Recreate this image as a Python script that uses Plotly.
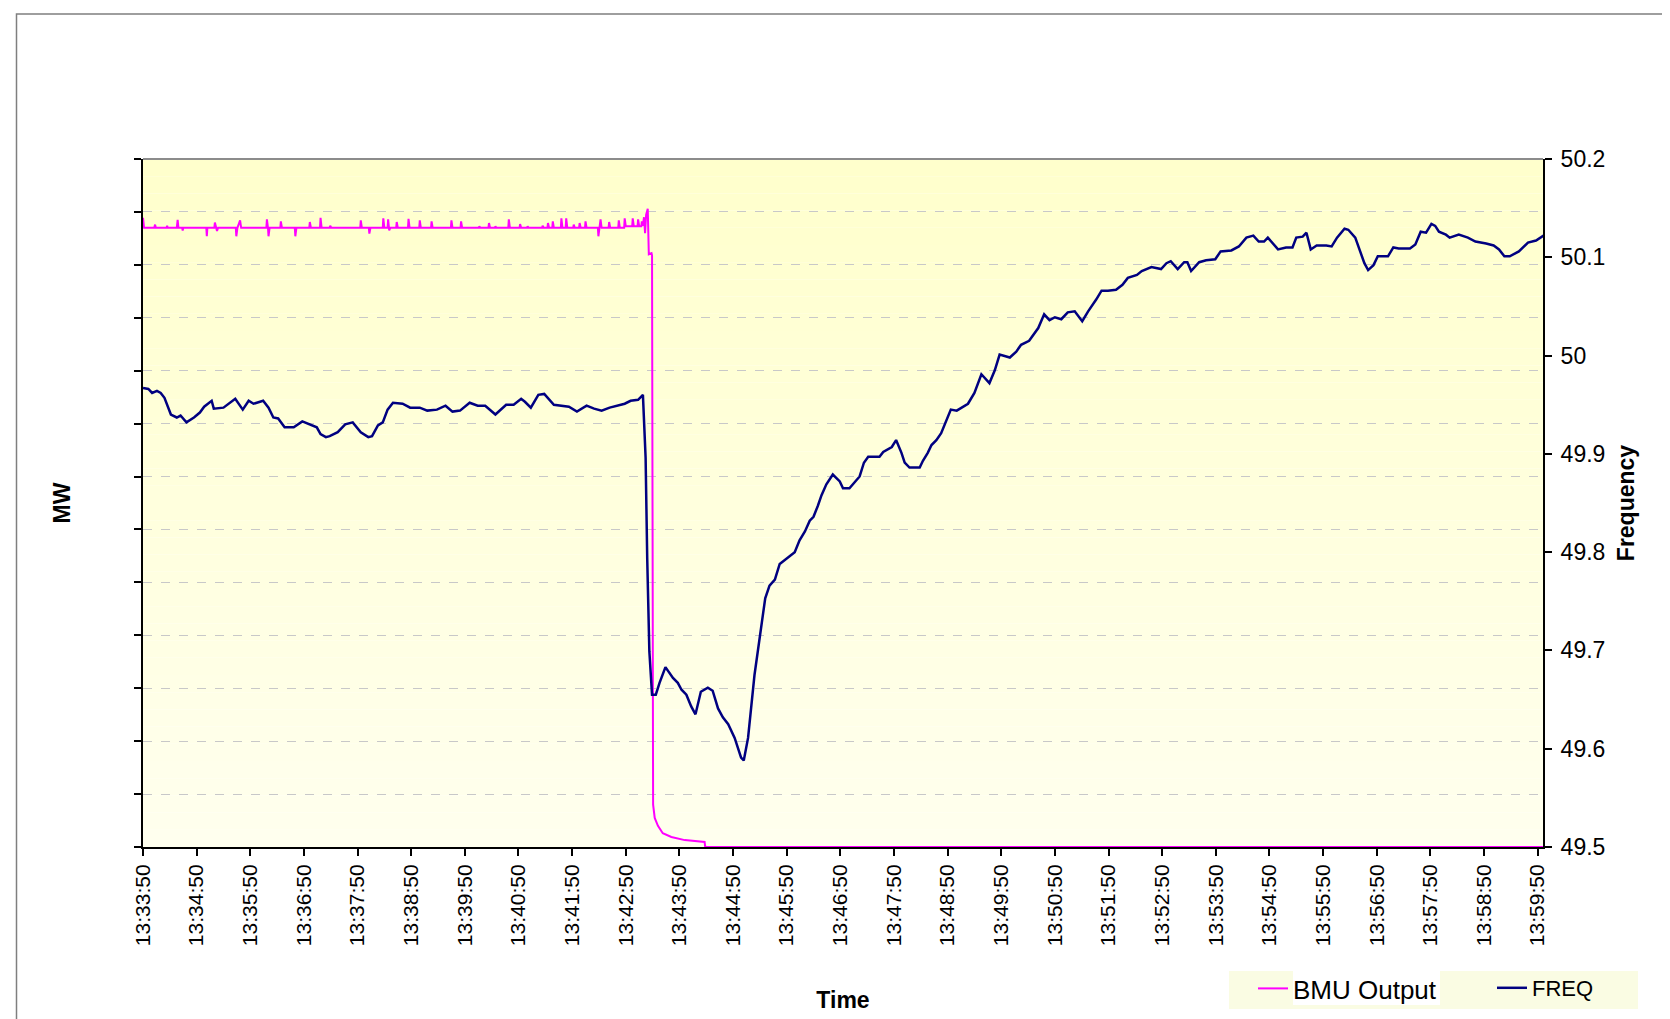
import pandas as pd
import plotly.graph_objects as go

# ---------------- data ----------------
START = "2008-05-27 13:33:50"

# minutes after 13:33:50 and frequency (Hz)
freq_min = [0.00, 0.10, 0.17, 0.26, 0.33, 0.40, 0.52, 0.63, 0.70, 0.81, 0.95, 1.06, 1.14, 1.24, 1.28,
            1.32, 1.50, 1.72, 1.86, 1.97, 2.06, 2.24, 2.34, 2.43, 2.52, 2.64, 2.81, 2.97, 3.13, 3.24,
            3.31, 3.41, 3.48, 3.63, 3.77, 3.91, 4.06, 4.20, 4.27, 4.38, 4.47, 4.56, 4.66, 4.84, 4.98,
            5.16, 5.30, 5.48, 5.64, 5.77, 5.91, 6.09, 6.24, 6.38, 6.57, 6.77, 6.91, 7.05, 7.12, 7.23,
            7.37, 7.48, 7.66, 7.80, 7.94, 8.09, 8.27, 8.41, 8.55, 8.70, 8.84, 8.98, 9.09, 9.23, 9.32,
            9.37, 9.40, 9.44, 9.49, 9.56, 9.63, 9.74, 9.88, 9.97, 10.04, 10.13, 10.22, 10.30, 10.40,
            10.53, 10.62, 10.72, 10.81, 10.91, 11.03, 11.15, 11.20, 11.28, 11.40, 11.52, 11.60, 11.68,
            11.78, 11.87, 11.96, 12.06, 12.15, 12.24, 12.34, 12.43, 12.50, 12.58, 12.65, 12.74, 12.86,
            12.99, 13.05, 13.17, 13.27, 13.36, 13.44, 13.52, 13.73, 13.80, 13.96, 14.04, 14.14, 14.20,
            14.29, 14.48, 14.54, 14.63, 14.70, 14.79, 14.88, 14.95, 15.04, 15.06, 15.17, 15.29, 15.38,
            15.50, 15.63, 15.78, 15.88, 15.97, 16.16, 16.28, 16.37, 16.52, 16.69, 16.80, 16.90, 17.00,
            17.12, 17.24, 17.37, 17.51, 17.62, 17.77, 17.87, 17.99, 18.14, 18.26, 18.36, 18.53, 18.62,
            18.80, 18.98, 19.08, 19.16, 19.29, 19.41, 19.47, 19.54, 19.69, 19.82, 19.99, 20.09, 20.29,
            20.43, 20.57, 20.70, 20.80, 20.90, 20.97, 21.06, 21.16, 21.31, 21.43, 21.50, 21.62, 21.69,
            21.77, 21.88, 22.06, 22.16, 22.26, 22.40, 22.47, 22.60, 22.70, 22.77, 22.84, 22.94, 23.02,
            23.21, 23.31, 23.41, 23.62, 23.72, 23.82, 23.92, 24.02, 24.09, 24.16, 24.29, 24.36, 24.53,
            24.70, 24.84, 25.04, 25.18, 25.28, 25.38, 25.48, 25.65, 25.82, 25.97, 26.11]
freq_hz = [49.967, 49.966, 49.962, 49.964, 49.962, 49.957, 49.940, 49.937, 49.939, 49.932, 49.937, 49.942,
           49.948, 49.953, 49.954, 49.946, 49.947, 49.956, 49.945, 49.954, 49.951, 49.954, 49.947, 49.937,
           49.936, 49.927, 49.927, 49.933, 49.929, 49.927, 49.920, 49.917, 49.918, 49.922, 49.930, 49.932,
           49.922, 49.917, 49.918, 49.929, 49.932, 49.945, 49.952, 49.951, 49.947, 49.947, 49.944, 49.945,
           49.949, 49.943, 49.944, 49.952, 49.949, 49.949, 49.940, 49.950, 49.950, 49.956, 49.953, 49.947,
           49.960, 49.961, 49.950, 49.949, 49.948, 49.943, 49.949, 49.946, 49.944, 49.947, 49.949, 49.951,
           49.954, 49.955, 49.960, 49.896, 49.794, 49.699, 49.655, 49.655, 49.667, 49.683, 49.672, 49.667,
           49.660, 49.655, 49.643, 49.635, 49.658, 49.662, 49.659, 49.641, 49.632, 49.625, 49.611, 49.591,
           49.588, 49.611, 49.675, 49.723, 49.753, 49.766, 49.772, 49.788, 49.792, 49.796, 49.800, 49.812,
           49.821, 49.832, 49.836, 49.847, 49.858, 49.869, 49.879, 49.872, 49.865, 49.865, 49.871, 49.877,
           49.891, 49.897, 49.897, 49.902, 49.907, 49.914, 49.901, 49.891, 49.886, 49.886, 49.893, 49.901,
           49.909, 49.914, 49.921, 49.930, 49.943, 49.945, 49.944, 49.948, 49.951, 49.962, 49.981, 49.972,
           49.985, 50.001, 49.998, 50.004, 50.011, 50.015, 50.028, 50.042, 50.036, 50.039, 50.037, 50.044,
           50.045, 50.035, 50.045, 50.057, 50.066, 50.066, 50.067, 50.072, 50.079, 50.082, 50.086, 50.090,
           50.088, 50.094, 50.096, 50.088, 50.095, 50.095, 50.086, 50.095, 50.097, 50.098, 50.106, 50.107,
           50.111, 50.120, 50.122, 50.116, 50.116, 50.120, 50.114, 50.108, 50.110, 50.110, 50.120, 50.121,
           50.125, 50.108, 50.112, 50.112, 50.111, 50.120, 50.129, 50.128, 50.120, 50.104, 50.094, 50.087,
           50.092, 50.101, 50.101, 50.110, 50.109, 50.109, 50.113, 50.126, 50.125, 50.134, 50.132, 50.126,
           50.123, 50.120, 50.123, 50.120, 50.116, 50.114, 50.112, 50.108, 50.101, 50.101, 50.106, 50.115,
           50.117, 50.122]

# minutes after 13:33:50 and BMU output (MW)
bmu_min = [0.00, 0.02,
           0.21, 0.225, 0.24, 0.44, 0.45, 0.46, 0.63, 0.646, 0.66, 0.73, 0.74, 0.75,
           1.18, 1.19, 1.20, 1.33, 1.34, 1.36, 1.38, 1.40, 1.73, 1.74, 1.76, 1.81, 1.83,
           2.30, 2.31, 2.33, 2.34, 2.36, 2.56, 2.57, 2.59, 2.83, 2.84, 2.86,
           3.10, 3.11, 3.13, 3.30, 3.31, 3.33, 3.48, 3.49, 3.51,
           4.05, 4.06, 4.08, 4.21, 4.22, 4.24, 4.47, 4.48, 4.50, 4.56, 4.57, 4.59, 4.61, 4.72, 4.73, 4.75,
           4.94, 4.95, 4.97, 5.15, 5.16, 5.18, 5.37, 5.38, 5.40, 5.74, 5.75, 5.77, 5.92, 5.93, 5.95,
           6.26, 6.27, 6.29, 6.44, 6.45, 6.47, 6.56, 6.57, 6.59, 6.81, 6.82, 6.84,
           7.02, 7.03, 7.05, 7.16, 7.17, 7.19, 7.44, 7.45, 7.47, 7.54, 7.55, 7.57, 7.63, 7.64, 7.66,
           7.79, 7.80, 7.82, 7.88, 7.89, 7.91,
           8.02, 8.03, 8.05, 8.13, 8.14, 8.16, 8.24, 8.25, 8.27, 8.48, 8.49, 8.51, 8.53, 8.55,
           8.68, 8.69, 8.71, 8.86, 8.87, 8.89, 8.97, 8.98, 9.00,
           9.12, 9.13, 9.15, 9.22, 9.23, 9.25, 9.29, 9.30, 9.32, 9.34, 9.36, 9.38, 9.41, 9.42, 9.43,
           9.48, 9.49, 9.51, 9.54, 9.60, 9.69, 9.85, 10.10, 10.47, 10.48, 10.50, 26.11]
bmu_mw = [1189, 1170,
          1170, 1176, 1170, 1170, 1174, 1170, 1170, 1185, 1170, 1170, 1165, 1170,
          1170, 1154, 1170, 1170, 1180, 1170, 1164, 1170, 1170, 1154, 1170, 1184, 1170,
          1170, 1186, 1170, 1154, 1170, 1170, 1182, 1170, 1170, 1154, 1170,
          1170, 1181, 1170, 1170, 1189, 1170, 1170, 1174, 1170,
          1170, 1184, 1170, 1170, 1159, 1170, 1170, 1188, 1170, 1170, 1186, 1165, 1170, 1170, 1181, 1170,
          1170, 1187, 1170, 1170, 1184, 1170, 1170, 1182, 1170, 1170, 1184, 1170, 1170, 1182, 1170,
          1170, 1173, 1170, 1170, 1179, 1170, 1170, 1173, 1170, 1170, 1186, 1170,
          1170, 1177, 1170, 1170, 1173, 1170, 1170, 1174, 1170, 1170, 1179, 1170, 1170, 1182, 1170,
          1170, 1188, 1170, 1170, 1188, 1170,
          1170, 1176, 1170, 1170, 1179, 1170, 1170, 1182, 1170, 1170, 1154, 1170, 1186, 1170,
          1170, 1181, 1170, 1170, 1184, 1170, 1170, 1188, 1173,
          1173, 1188, 1173, 1173, 1186, 1173, 1173, 1182, 1174, 1190, 1160, 1195, 1206, 1150, 1120,
          1122, 1118, 80, 55, 40, 26, 19, 13, 9.5, 1, 0, 0]

freq_ticks = [49.5, 49.6, 49.7, 49.8, 49.9, 50.0, 50.1, 50.2]
freq_tick_text = ["49.5", "49.6", "49.7", "49.8", "49.9", "50", "50.1", "50.2"]

# ---------------- build ----------------
t0 = pd.Timestamp(START)
freq_x = [t0 + pd.Timedelta(minutes=m) for m in freq_min]
bmu_x = [t0 + pd.Timedelta(minutes=m) for m in bmu_min]
x_end = t0 + pd.Timedelta(seconds=26 * 60 + 6)

FONT = "Arial, Liberation Sans, sans-serif"

# plot-area geometry in pixels (for paper-coordinate decorations)
L, R, T, B = 135, 1535, 151, 839


def px(x):
    return (x - L) / (R - L)


def py(y):
    return (B - y) / (B - T)


fig = go.Figure()
fig.add_trace(go.Scatter(x=bmu_x, y=bmu_mw, mode="lines", name="BMU Output",
                         line=dict(color="#FF00FF", width=2), yaxis="y", legend="legend"))
fig.add_trace(go.Scatter(x=freq_x, y=freq_hz, mode="lines", name="FREQ",
                         line=dict(color="#000080", width=2.5), yaxis="y2", legend="legend2"))

shapes = []
# gradient plot background
N = 40
for i in range(N):
    frac = i / (N - 1)
    g = int(round(204 + (238 - 204) * frac))
    shapes.append(dict(type="rect", xref="paper", yref="paper",
                       x0=0, x1=1, y0=1 - (i + 1) / N, y1=1 - i / N,
                       fillcolor=f"rgb(255,255,{g})", line=dict(width=0), layer="below"))
# top border of plot area
shapes.append(dict(type="line", xref="paper", yref="paper", x0=0, x1=1, y0=1, y1=1,
                   line=dict(color="#8c8c8c", width=2), layer="above"))
# outer chart border
shapes.append(dict(type="rect", xref="paper", yref="paper",
                   x0=px(8.5), x1=px(1665), y0=py(1030), y1=py(6),
                   line=dict(color="#7f7f7f", width=1.5), fillcolor="rgba(0,0,0,0)", layer="above"))
# legend background and the white box behind the first entry's text
shapes.append(dict(type="rect", xref="paper", yref="paper",
                   x0=px(1221), x1=px(1630), y0=py(1001), y1=py(963),
                   fillcolor="#FAFCE3", line=dict(width=0), layer="below"))
shapes.append(dict(type="rect", xref="paper", yref="paper",
                   x0=px(1285), x1=px(1432), y0=py(997), y1=py(963),
                   fillcolor="white", line=dict(width=0), layer="below"))

legend_common = dict(orientation="h", xanchor="left", yanchor="top",
                     bgcolor="rgba(0,0,0,0)", itemwidth=30)

fig.update_layout(
    width=1670, height=1019, autosize=False,
    margin=dict(l=L, r=1670 - R, t=T, b=1019 - B),
    paper_bgcolor="white", plot_bgcolor="rgba(0,0,0,0)",
    font=dict(family=FONT, color="black"),
    shapes=shapes,
    showlegend=True,
    legend=dict(x=px(1245), y=py(957), font=dict(size=26, family=FONT, color="black"),
                **legend_common),
    legend2=dict(x=px(1484), y=py(959), font=dict(size=22, family=FONT, color="black"),
                 **legend_common),
    xaxis=dict(
        type="date", range=[t0, x_end],
        tick0=t0, dtick=60000, tickformat="%H:%M:%S",
        tickangle=-90, tickfont=dict(size=21, family=FONT, color="black"),
        ticks="outside", ticklen=7, tickcolor="black", tickwidth=1.5,
        showline=True, linecolor="black", linewidth=2,
        showgrid=False, zeroline=False, layer="below traces",
        title=dict(text="Time", font=dict(size=23, family=FONT, weight="bold", color="black"),
                   standoff=47),
    ),
    yaxis=dict(
        range=[0, 1300], dtick=100, tick0=0,
        showticklabels=False, ticks="outside", ticklen=7, tickcolor="black", tickwidth=1.5,
        showline=True, linecolor="black", linewidth=2,
        showgrid=True, gridcolor="#c8c8c8", griddash="dash", gridwidth=1,
        zeroline=False,
        title=dict(text="MW", font=dict(size=23, family=FONT, weight="bold", color="black"),
                   standoff=57),
    ),
    yaxis2=dict(
        overlaying="y", side="right", range=[49.5, 50.2],
        tickvals=freq_ticks, ticktext=freq_tick_text,
        tickfont=dict(size=23, family=FONT, color="black"),
        ticks="outside", ticklen=7, tickcolor="black", tickwidth=1.5,
        showline=True, linecolor="black", linewidth=2,
        showgrid=False, zeroline=False, ticklabelstandoff=4,
        title=dict(text="Frequency", font=dict(size=23, family=FONT, weight="bold", color="black"),
                   standoff=14),
    ),
)

fig.write_html("out.html")
